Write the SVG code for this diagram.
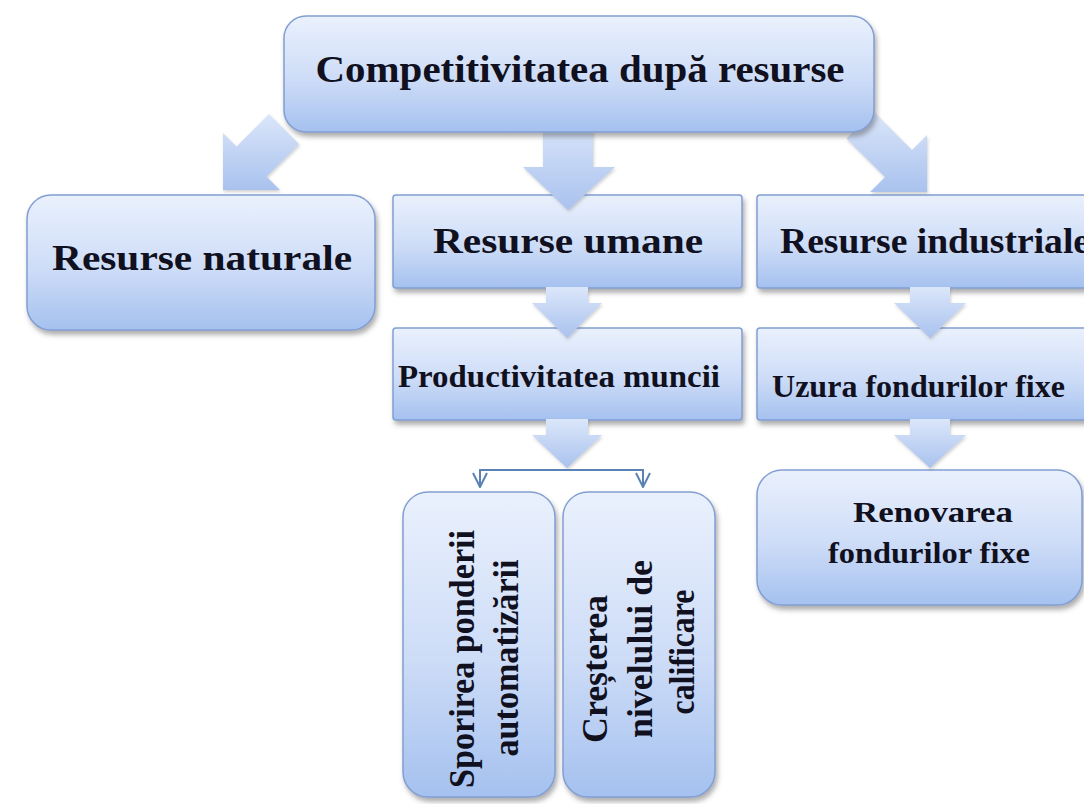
<svg xmlns="http://www.w3.org/2000/svg" width="1084" height="804" viewBox="0 0 1084 804">
<defs>
<linearGradient id="gBox" x1="0" y1="0" x2="0" y2="1">
<stop offset="0" stop-color="#eaf1fd"/>
<stop offset="0.55" stop-color="#cddcf7"/>
<stop offset="1" stop-color="#a5c1ef"/>
</linearGradient>
<linearGradient id="gArr" x1="0" y1="0" x2="0" y2="1">
<stop offset="0" stop-color="#dbe6fa"/>
<stop offset="1" stop-color="#a9c2ee"/>
</linearGradient>
<filter id="sh" x="-10%" y="-10%" width="125%" height="130%">
<feDropShadow dx="2" dy="4" stdDeviation="2.5" flood-color="#4a4a4a" flood-opacity="0.45"/>
</filter>
<filter id="shA" x="-10%" y="-10%" width="125%" height="130%">
<feDropShadow dx="1" dy="2" stdDeviation="1.5" flood-color="#6a6a6a" flood-opacity="0.3"/>
</filter>
<marker id="v" viewBox="0 0 16 16" refX="15" refY="8" markerWidth="16" markerHeight="16" markerUnits="userSpaceOnUse" orient="auto">
<path d="M1,1 L15,8 L1,15" fill="none" stroke="#5b82b5" stroke-width="2"/>
</marker>
<style>
.box{fill:url(#gBox);stroke:#819fd2;stroke-width:1.5;filter:url(#sh)}
.arr{fill:url(#gArr);filter:url(#shA)}
.t{font-family:"Liberation Serif","Times New Roman",serif;font-weight:bold;fill:#10101e}
.line{fill:none;stroke:#5b82b5;stroke-width:2}
</style>
</defs>
<rect width="1084" height="804" fill="#ffffff"/>

<g id="node-naturale">
<rect class="box" x="27" y="195" width="348" height="135" rx="24"/>
<text class="t" x="202" y="270" font-size="36" text-anchor="middle" textLength="300" lengthAdjust="spacingAndGlyphs">Resurse naturale</text>
</g>
<g id="node-umane">
<rect class="box" x="393" y="195" width="349" height="93" rx="3"/>
<text class="t" x="568" y="253" font-size="36" text-anchor="middle" textLength="270" lengthAdjust="spacingAndGlyphs">Resurse umane</text>
</g>
<g id="node-industriale">
<rect class="box" x="757" y="195" width="360" height="93" rx="3"/>
<text class="t" x="780" y="253" font-size="36" textLength="310" lengthAdjust="spacingAndGlyphs">Resurse industriale</text>
</g>
<g id="node-productivitatea">
<rect class="box" x="393" y="328" width="349" height="92" rx="3"/>
<text class="t" x="398" y="387" font-size="31" textLength="322" lengthAdjust="spacingAndGlyphs">Productivitatea muncii</text>
</g>
<g id="node-uzura">
<rect class="box" x="757" y="328" width="360" height="92" rx="3"/>
<text class="t" x="772" y="397" font-size="31" textLength="293" lengthAdjust="spacingAndGlyphs">Uzura fondurilor fixe</text>
</g>
<g id="node-renovarea">
<rect class="box" x="757" y="470" width="325" height="135" rx="25"/>
<text class="t" x="933" y="522" font-size="30" text-anchor="middle" textLength="160" lengthAdjust="spacingAndGlyphs">Renovarea</text>
<text class="t" x="929" y="563" font-size="30" text-anchor="middle" textLength="202" lengthAdjust="spacingAndGlyphs">fondurilor fixe</text>
</g>
<g id="node-sporirea">
<rect class="box" x="403" y="492" width="152" height="305" rx="25"/>
<text class="t" font-size="32" text-anchor="middle" transform="translate(474,659) scale(1.15,1) rotate(-90)" textLength="258" lengthAdjust="spacingAndGlyphs">Sporirea ponderii</text>
<text class="t" font-size="32" text-anchor="middle" transform="translate(518,658) scale(1.15,1) rotate(-90)" textLength="197" lengthAdjust="spacingAndGlyphs">automatizării</text>
</g>
<g id="node-cresterea">
<rect class="box" x="563" y="492" width="152" height="305" rx="25"/>
<text class="t" font-size="32" text-anchor="middle" transform="translate(607,669) scale(1.15,1) rotate(-90)" textLength="148" lengthAdjust="spacingAndGlyphs">Creșterea</text>
<text class="t" font-size="32" text-anchor="middle" transform="translate(652,649) scale(1.15,1) rotate(-90)" textLength="178" lengthAdjust="spacingAndGlyphs">nivelului de</text>
<text class="t" font-size="32" text-anchor="middle" transform="translate(694,652) scale(1.15,1) rotate(-90)" textLength="125" lengthAdjust="spacingAndGlyphs">calificare</text>
</g>

<g id="connectors">
<polygon class="arr" points="223,190 223,133 236.5,146.5 269,114 299,144 266.5,176.5 280,190"/>
<polygon class="arr" points="543,118 593,118 593,167 615,167 568,210 523,167 543,167"/>
<polygon class="arr" points="927,192 927,135 912,150 873.5,111.5 846.5,138.5 885,177 870,192"/>
<polygon class="arr" points="546,287 588,287 588,303 602,303 567,338 532,303 546,303"/>
<polygon class="arr" points="546,419 588,419 588,435 602,435 567,468 532,435 546,435"/>
<polygon class="arr" points="910,287 950,287 950,303 966,303 930,338 894,303 910,303"/>
<polygon class="arr" points="910,419 950,419 950,435 966,435 930,468 894,435 910,435"/>
<path class="line" d="M480,470 H643"/>
<path class="line" d="M480,469 V487" marker-end="url(#v)"/>
<path class="line" d="M643,469 V487" marker-end="url(#v)"/>
</g>

<g id="node-top">
<rect class="box" x="284" y="16" width="590" height="116" rx="22"/>
<text class="t" x="580" y="82" font-size="37" text-anchor="middle" textLength="529" lengthAdjust="spacingAndGlyphs">Competitivitatea după resurse</text>
</g>
</svg>
